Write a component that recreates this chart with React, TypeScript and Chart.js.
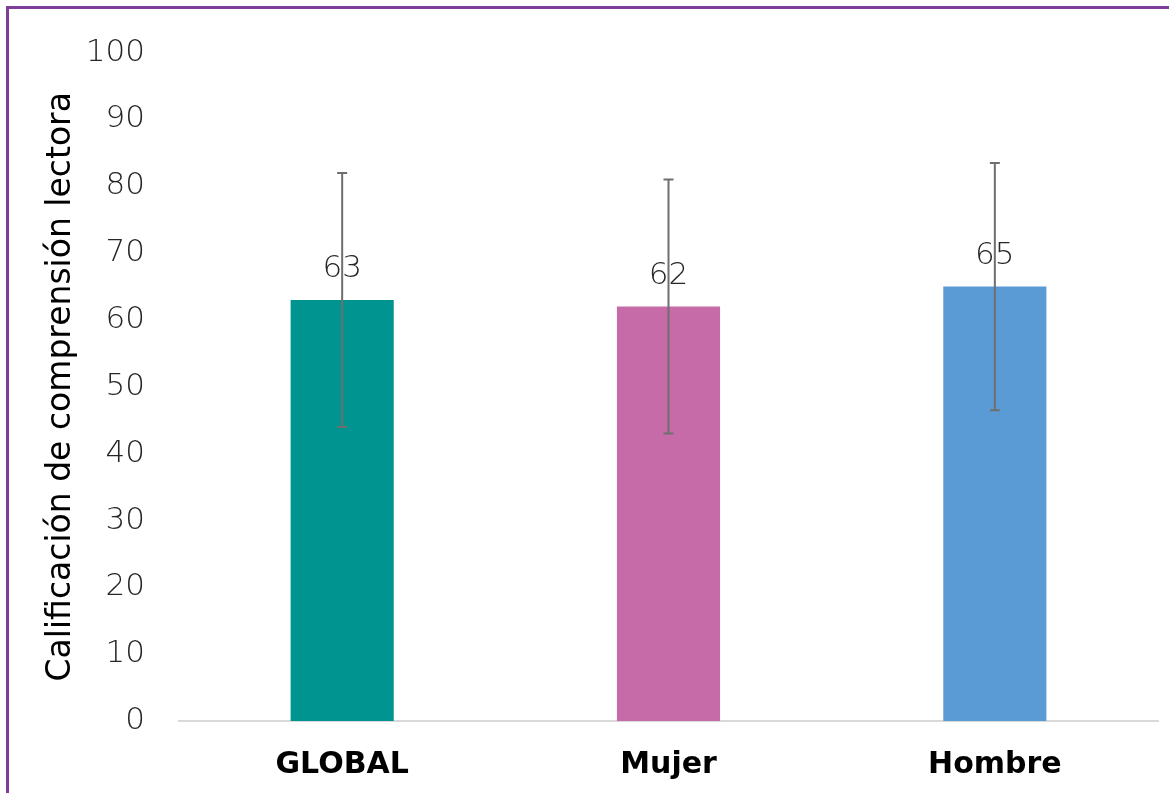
import React, { useEffect, useRef } from "react";
import { Chart, registerables } from "chart.js";

Chart.register(...registerables);

const categories = ["GLOBAL", "Mujer", "Hombre"];
const values = [63, 62, 65];
const errPlus = [19, 19, 18.5];
const errMinus = [19, 19, 18.5];
const colors = ["#009490", "#c76ba8", "#5b9bd5"];
const dataLabels = ["63", "62", "65"];

const LIGHT = "'DejaVu Sans', Lato, sans-serif";
const BOLDF = "'DejaVu Sans', 'Open Sans', sans-serif";

const errorBarPlugin = {
  id: "errorBars",
  afterDatasetsDraw(chart: any) {
    const { ctx } = chart;
    const meta = chart.getDatasetMeta(0);
    const y = chart.scales.y;
    ctx.save();
    ctx.fillStyle = "#262626";
    ctx.font = `200 31px ${LIGHT}`;
    ctx.textAlign = "center";
    ctx.textBaseline = "middle";
    meta.data.forEach((bar: any, i: number) => {
      ctx.fillText(dataLabels[i], bar.x, bar.y - 31);
    });
    ctx.strokeStyle = "#6f6f6f";
    ctx.lineWidth = 2;
    meta.data.forEach((bar: any, i: number) => {
      const top = y.getPixelForValue(values[i] + errPlus[i]);
      const bot = y.getPixelForValue(values[i] - errMinus[i]);
      ctx.beginPath();
      ctx.moveTo(bar.x, top);
      ctx.lineTo(bar.x, bot);
      ctx.moveTo(bar.x - 5, top);
      ctx.lineTo(bar.x + 5, top);
      ctx.moveTo(bar.x - 5, bot);
      ctx.lineTo(bar.x + 5, bot);
      ctx.stroke();
    });
    ctx.restore();
  },
};

export default function App() {
  const ref = useRef<HTMLCanvasElement>(null);
  useEffect(() => {
    document.body.style.margin = "0";
    const chart = new Chart(ref.current!, {
      type: "bar",
      data: {
        labels: categories,
        datasets: [
          {
            data: values,
            backgroundColor: colors,
            categoryPercentage: 1,
            barPercentage: 0.316,
          },
        ],
      },
      options: {
        animation: false,
        responsive: false,
        maintainAspectRatio: false,
        layout: { padding: { top: 52, right: 11, left: 0, bottom: 0 } },
        plugins: { legend: { display: false }, tooltip: { enabled: false } },
        scales: {
          x: {
            grid: { display: false, drawTicks: false },
            border: { display: true, color: "#d9d9d9", width: 2 },
            ticks: {
              color: "#000",
              padding: 26,
              font: { family: BOLDF, size: 30, weight: "bold" },
            },
            afterFit: (s: any) => {
              s.height = 72;
            },
          },
          y: {
            min: 0,
            max: 100,
            ticks: {
              stepSize: 10,
              color: "#262626",
              padding: 34,
              font: { family: LIGHT, size: 31, weight: "200" },
            },
            grid: { display: false, drawTicks: false },
            border: { display: false },
            title: {
              display: true,
              text: "Calificación de comprensión lectora",
              color: "#000",
              padding: { top: 42, bottom: 0 },
              font: { family: BOLDF, size: 33, weight: "normal" },
            },
            afterFit: (s: any) => {
              s.width = 179;
            },
          },
        },
      },
      plugins: [errorBarPlugin],
    });
    return () => chart.destroy();
  }, []);
  return (
    <div style={{ position: "relative", width: 1169, height: 793, overflow: "hidden", background: "#fff" }}>
      <canvas ref={ref} width={1169} height={793} style={{ position: "absolute", left: 0, top: 0 }} />
      <div
        style={{
          position: "absolute",
          left: 6,
          top: 6,
          width: 1300,
          height: 900,
          borderTop: "3px solid #7f3f98",
          borderLeft: "3px solid #7f3f98",
          pointerEvents: "none",
        }}
      />
    </div>
  );
}
